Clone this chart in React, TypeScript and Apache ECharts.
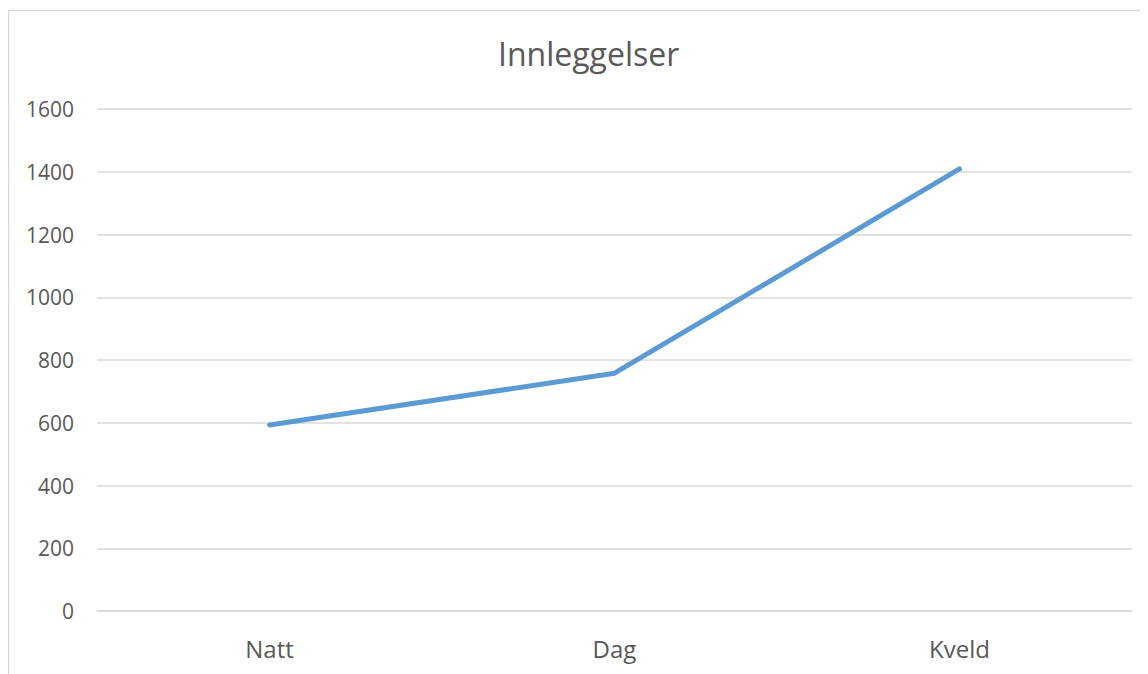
import React, { useEffect, useRef } from "react";
import * as echarts from "echarts";

const categories = ["Natt", "Dag", "Kveld"];
const values = [593, 758, 1409];
const titleText = "Innleggelser";

export default function App() {
  const ref = useRef<HTMLDivElement>(null);
  useEffect(() => {
    if (!ref.current) return;
    const chart = echarts.init(ref.current, undefined, { renderer: "svg" });
    chart.setOption({
      animation: false,
      backgroundColor: "#ffffff",
      title: {
        text: titleText,
        left: 485,
        top: 24,
        textStyle: { color: "#595959", fontSize: 32, fontWeight: "normal", fontFamily: "Open Sans" },
      },
      graphic: [
        {
          type: "rect",
          shape: { x: 0.5, y: 2.5, width: 1200, height: 800 },
          style: { fill: "none", stroke: "#d9d9d9", lineWidth: 1.5 },
          silent: true,
        },
      ],
      grid: { left: 89, right: 16, top: 101, bottom: 63 },
      xAxis: {
        type: "category",
        data: categories,
        boundaryGap: true,
        axisLine: { show: true, lineStyle: { color: "#d9d9d9", width: 1.5 } },
        axisTick: { show: false },
        axisLabel: { color: "#595959", fontSize: 24, fontFamily: "Open Sans", margin: 25 },
      },
      yAxis: {
        type: "value",
        min: 0,
        max: 1600,
        interval: 200,
        axisLine: { show: false },
        axisTick: { show: false },
        splitLine: { lineStyle: { color: "#d9d9d9", width: 1.5 } },
        axisLabel: {
          color: "#595959",
          fontSize: 21,
          fontFamily: "Open Sans",
          margin: 23,
          formatter: (v: number) => String(v),
        },
      },
      series: [
        {
          type: "line",
          data: values,
          symbol: "none",
          lineStyle: { color: "#5b9bd5", width: 5, cap: "round", join: "round" },
          itemStyle: { color: "#5b9bd5" },
        },
      ],
    });
    return () => chart.dispose();
  }, []);
  return <div ref={ref} style={{ width: 1140, height: 666 }} />;
}
